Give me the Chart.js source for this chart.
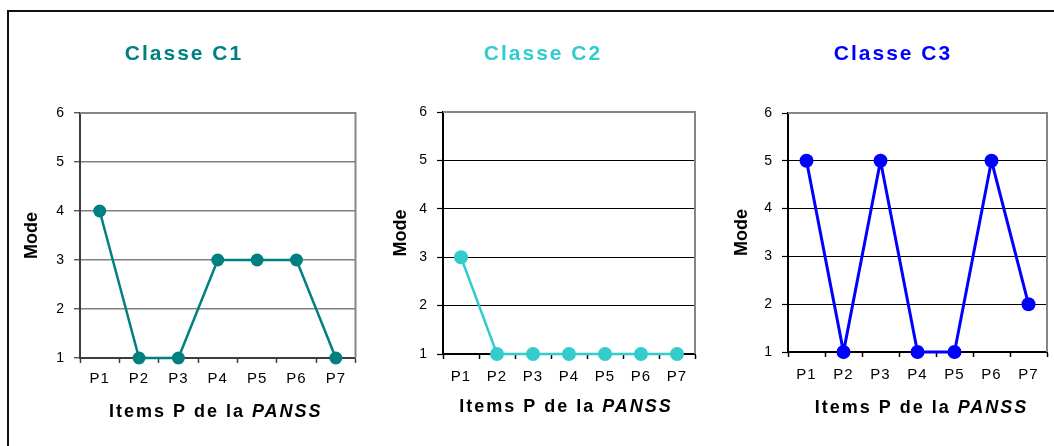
<!DOCTYPE html>
<html>
<head>
<meta charset="utf-8">
<script src="https://cdn.jsdelivr.net/npm/chart.js@4.4.1/dist/chart.umd.min.js"></script>
<style>
  html, body { margin: 0; padding: 0; background: #fff; }
  body { width: 1054px; height: 446px; position: relative; overflow: hidden; }
  #frame { position: absolute; left: 7px; top: 10px; width: 1200px; height: 600px;
           border-left: 2px solid #111; border-top: 2px solid #111; }
  canvas { position: absolute; top: 0; }
</style>
</head>
<body>
<div id="frame"></div>
<canvas id="c1" width="362" height="446" style="left:0px"></canvas>
<canvas id="c2" width="340" height="446" style="left:362px"></canvas>
<canvas id="c3" width="352" height="446" style="left:702px"></canvas>
<script>
// data
const items = ['P1', 'P2', 'P3', 'P4', 'P5', 'P6', 'P7'];
const modeC1 = [4, 1, 1, 3, 3, 3, 1];
const modeC2 = [3, 1, 1, 1, 1, 1, 1];
const modeC3 = [5, 1, 5, 1, 1, 5, 2];
const yTicks = [1, 2, 3, 4, 5, 6];
const yTitle = 'Mode';
const xTitleMain = 'Items P de la ';
const xTitleItalic = 'PANSS';

const FONT = "'Liberation Sans', Arial, sans-serif";

// canvas letterSpacing for the title block and x tick labels
function wrap(obj, name, px) {
  if (!obj || obj['_sp_' + name]) return;
  const orig = obj[name];
  obj['_sp_' + name] = true;
  obj[name] = function (...args) {
    const ctx = this.ctx;
    ctx.letterSpacing = px + 'px';
    orig.apply(this, args);
    ctx.letterSpacing = '0px';
  };
}
const spacingPlugin = {
  id: 'spacing',
  beforeDraw(chart) {
    wrap(chart.titleBlock, 'draw', 2);
    wrap(chart.scales.x, 'drawLabels', 1);
  }
};

// gray top + right edge of the plot area
const framePlugin = {
  id: 'plotFrame',
  beforeDatasetsDraw(chart, args, opts) {
    const { ctx, chartArea: a } = chart;
    ctx.save();
    ctx.strokeStyle = opts.color;
    ctx.lineWidth = opts.width;
    ctx.beginPath();
    ctx.moveTo(a.left, a.top);
    ctx.lineTo(a.right, a.top);
    ctx.lineTo(a.right, a.bottom);
    ctx.stroke();
    ctx.restore();
  }
};

// x axis title with italic "PANSS"
const xTitlePlugin = {
  id: 'xTitle',
  afterDraw(chart, args, opts) {
    const ctx = chart.ctx, a = chart.chartArea;
    const y = chart.scales.x.bottom - opts.offset;
    const f1 = 'bold 18px ' + FONT, f2 = 'italic bold 18px ' + FONT;
    ctx.save();
    ctx.letterSpacing = '2px';
    ctx.fillStyle = '#000';
    ctx.textBaseline = 'middle';
    ctx.textAlign = 'left';
    ctx.font = f1;
    const w1 = ctx.measureText(xTitleMain).width;
    ctx.font = f2;
    const w2 = ctx.measureText(xTitleItalic).width;
    const x = (a.left + a.right) / 2 + opts.shift - (w1 + w2) / 2;
    ctx.font = f1;
    ctx.fillText(xTitleMain, x, y);
    ctx.font = f2;
    ctx.fillText(xTitleItalic, x + w1, y);
    ctx.restore();
  }
};

function makeChart(id, o) {
  return new Chart(document.getElementById(id), {
    type: 'line',
    data: {
      labels: items,
      datasets: [{
        data: o.values,
        borderColor: o.color,
        backgroundColor: o.color,
        borderWidth: o.lineWidth,
        pointRadius: o.radius,
        pointHoverRadius: o.radius,
        pointBorderWidth: 0,
        tension: 0,
        clip: false
      }]
    },
    options: {
      responsive: false,
      animation: false,
      events: [],
      layout: { padding: { left: o.padLeft, right: o.padRight, top: 0, bottom: 0 } },
      plugins: {
        legend: { display: false },
        tooltip: { enabled: false },
        title: {
          display: true,
          text: o.title,
          color: o.color,
          font: { family: FONT, size: 21, weight: 'bold', lineHeight: 1.2 },
          padding: { top: 41.4, bottom: o.titleGap }
        },
        plotFrame: { color: '#868686', width: 2 },
        xTitle: { offset: o.xTitleOffset, shift: o.xTitleShift }
      },
      scales: {
        x: {
          offset: true,
          afterFit: s => { s.height = o.xHeight; },
          grid: { offset: true, drawOnChartArea: false, tickLength: 5, tickColor: o.axis, tickWidth: 1.5 },
          border: { color: o.axis, width: 2 },
          ticks: { color: '#000', font: { family: FONT, size: 15 }, padding: o.xTickPad, maxRotation: 0, autoSkip: false }
        },
        y: {
          min: yTicks[0],
          max: yTicks[yTicks.length - 1],
          afterFit: s => { s.width = o.yWidth; },
          afterBuildTicks: s => { s.ticks = yTicks.map(v => ({ value: v })); },
          ticks: { color: '#000', font: { family: FONT, size: 14 }, padding: 10 },
          grid: { color: o.grid, lineWidth: o.gridWidth, tickLength: 6, tickColor: o.axis, tickWidth: 1.2 },
          border: { color: o.axis, width: 2 },
          title: {
            display: true,
            text: yTitle,
            color: '#000',
            font: { family: FONT, size: 18, weight: 'bold', lineHeight: 1.2 },
            padding: { top: o.yTitlePad, bottom: 0 }
          }
        }
      }
    },
    plugins: [spacingPlugin, framePlugin, xTitlePlugin]
  });
}

makeChart('c1', {
  title: 'Classe C1', values: modeC1, color: '#008080',
  lineWidth: 2.5, radius: 6.5,
  padLeft: 10, padRight: 4, yWidth: 70, yTitlePad: 11.2,
  titleGap: 46.4, xHeight: 88, xTickPad: 6.5, xTitleOffset: 34, xTitleShift: -2,
  axis: '#3c3c3c', grid: '#808080', gridWidth: 1.5
});
makeChart('c2', {
  title: 'Classe C2', values: modeC2, color: '#33CCCC',
  lineWidth: 2.5, radius: 7,
  padLeft: 25, padRight: 3, yWidth: 56, yTitlePad: 3.2,
  titleGap: 45.4, xHeight: 92, xTickPad: 8.5, xTitleOffset: 39, xTitleShift: -3,
  axis: '#000', grid: '#000', gridWidth: 1
});
makeChart('c3', {
  title: 'Classe C3', values: modeC3, color: '#0000FF',
  lineWidth: 3, radius: 7,
  padLeft: 34, padRight: 4, yWidth: 52, yTitlePad: -4.8,
  titleGap: 46.4, xHeight: 94, xTickPad: 9, xTitleOffset: 38, xTitleShift: 4,
  axis: '#000', grid: '#000', gridWidth: 1
});
</script>
</body>
</html>
